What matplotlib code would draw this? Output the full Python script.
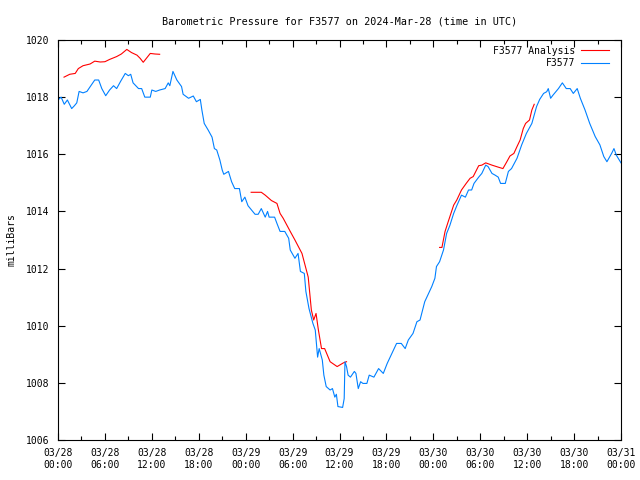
import numpy as np
import matplotlib
matplotlib.use("Agg")
import matplotlib.pyplot as plt

# hours since 2024-03-28 00:00 UTC
station_t = [0.0, 0.4, 0.8, 1.2, 1.75, 2.1, 2.4, 2.7, 3.2, 3.7, 4.2, 4.7, 5.2, 5.6, 6.1,
             6.6, 7.1, 7.5, 8.0, 8.6, 9.0, 9.3, 9.6, 10.3, 10.7, 11.1, 11.8, 12.0, 12.5,
             13.0, 13.7, 14.1, 14.3, 14.7, 15.2, 15.8, 16.0, 16.7, 17.3, 17.7, 18.2, 18.4,
             18.7, 19.2, 19.7, 20.0, 20.3, 20.7, 21.0, 21.2, 21.8, 22.2, 22.6, 23.2, 23.5,
             23.9, 24.3, 25.2, 25.6, 26.0, 26.5, 26.8, 27.0, 27.7, 28.0, 28.4, 29.0, 29.5,
             29.7, 30.3, 30.7, 31.0, 31.5, 31.7, 32.1, 32.6, 32.9, 33.2, 33.4, 33.8, 34.0,
             34.3, 34.8, 35.1, 35.4, 35.6, 35.8, 36.4, 36.6, 36.7, 36.9, 37.1, 37.4, 37.9,
             38.1, 38.4, 38.7, 39.0, 39.5, 39.8, 40.4, 41.0, 41.6, 42.1, 42.9, 43.3, 43.9,
             44.4, 44.8, 45.4, 45.9, 46.3, 46.9, 47.8, 48.2, 48.4, 48.8, 49.3, 49.7, 50.1,
             50.6, 51.0, 51.6, 52.1, 52.5, 52.9, 53.2, 53.8, 54.2, 54.7, 55.0, 55.5, 55.9,
             56.3, 56.6, 57.2, 57.6, 58.0, 58.7, 59.3, 59.9, 60.6, 61.2, 61.6, 62.1, 62.5,
             62.7, 63.0, 63.3, 64.0, 64.5, 65.0, 65.5, 65.9, 66.4, 66.8, 67.4, 68.0, 68.7,
             69.3, 69.8, 70.2, 70.8, 71.1, 71.4, 71.9, 72.0]
station_p = [1017.9, 1018.0, 1017.75, 1017.9, 1017.6, 1017.7, 1017.8, 1018.2, 1018.15, 1018.2,
             1018.4, 1018.6, 1018.6, 1018.3, 1018.05, 1018.25, 1018.4, 1018.3, 1018.55, 1018.83,
             1018.75, 1018.8, 1018.5, 1018.3, 1018.3, 1018.0, 1018.0, 1018.25, 1018.2, 1018.25,
             1018.3, 1018.5, 1018.4, 1018.9, 1018.6, 1018.37, 1018.1, 1017.96, 1018.04, 1017.84,
             1017.92, 1017.55, 1017.08, 1016.85, 1016.6, 1016.2, 1016.15, 1015.8, 1015.45, 1015.3,
             1015.4, 1015.04, 1014.8, 1014.8, 1014.34, 1014.5, 1014.2, 1013.9, 1013.9, 1014.1,
             1013.8, 1014.0, 1013.8, 1013.8, 1013.58, 1013.3, 1013.3, 1013.06, 1012.65, 1012.36,
             1012.53, 1011.9, 1011.83, 1011.2, 1010.6, 1010.08, 1009.85, 1008.9, 1009.2, 1008.8,
             1008.27, 1007.87, 1007.75, 1007.8, 1007.5, 1007.6, 1007.17, 1007.14, 1007.45, 1008.74,
             1008.57, 1008.27, 1008.2, 1008.4, 1008.33, 1007.8, 1008.04, 1007.98, 1007.98, 1008.27,
             1008.2, 1008.5, 1008.33, 1008.68, 1009.15, 1009.38, 1009.38, 1009.2, 1009.5, 1009.73,
             1010.14, 1010.2, 1010.84, 1011.37, 1011.66, 1012.07, 1012.24, 1012.65, 1013.23, 1013.5,
             1013.93, 1014.2, 1014.57, 1014.5, 1014.75, 1014.75, 1014.98, 1015.2, 1015.33, 1015.62,
             1015.57, 1015.33, 1015.27, 1015.2, 1014.98, 1014.98, 1015.4, 1015.5, 1015.86, 1016.33,
             1016.73, 1017.08, 1017.67, 1017.92, 1018.13, 1018.19, 1018.3, 1017.96, 1018.07, 1018.3,
             1018.5, 1018.3, 1018.3, 1018.13, 1018.3, 1017.96, 1017.55, 1017.08, 1016.62, 1016.33,
             1015.92, 1015.74, 1016.03, 1016.2, 1015.97, 1015.74, 1015.7]

# analysis has gaps (nan)
nan = np.nan
analysis_t = [0.77, 1.5, 2.2, 2.6, 3.2, 4.1, 4.7, 5.4, 6.0, 6.6, 7.5, 8.1, 8.8, 9.4, 10.1,
              10.5, 10.9, 11.8, 12.4, 13.0, 13.5,
              24.7, 26.0, 26.5, 27.3, 28.0, 28.4, 28.8, 29.7, 30.3, 31.2, 32.0, 32.4, 32.7,
              33.0, 33.3, 33.7, 34.1, 34.8, 35.7, 36.5, 36.9, 37.5,
              48.8, 49.1, 49.5, 49.9, 50.6, 51.0, 51.6, 52.2, 52.7, 53.1, 53.8, 54.2, 54.7,
              55.5, 56.3, 56.9, 57.4, 57.8, 58.3, 58.7, 59.1, 59.5, 59.8, 60.3, 60.6, 60.9]
analysis_p = [1018.7, 1018.8, 1018.83, 1019.0, 1019.1, 1019.16, 1019.26, 1019.23, 1019.24,
              1019.32, 1019.42, 1019.51, 1019.67, 1019.56, 1019.47, 1019.36, 1019.22, 1019.53,
              1019.51, 1019.5, nan,
              1014.67, 1014.67, 1014.57, 1014.38, 1014.28, 1013.93, 1013.76, 1013.3, 1013.0,
              1012.53, 1011.7, 1010.55, 1010.2, 1010.43, 1009.85, 1009.2, 1009.2, 1008.74,
              1008.57, 1008.7, 1008.74, nan,
              1012.74, 1012.74, 1013.3, 1013.64, 1014.22, 1014.4, 1014.75, 1014.98, 1015.16,
              1015.22, 1015.6, 1015.62, 1015.7, 1015.62, 1015.55, 1015.5, 1015.74, 1015.94,
              1016.03, 1016.27, 1016.5, 1016.9, 1017.08, 1017.2, 1017.55, 1017.75]

tick_hours = list(range(0, 73, 6))
tick_labels = ["03/28\n00:00", "03/28\n06:00", "03/28\n12:00", "03/28\n18:00",
               "03/29\n00:00", "03/29\n06:00", "03/29\n12:00", "03/29\n18:00",
               "03/30\n00:00", "03/30\n06:00", "03/30\n12:00", "03/30\n18:00",
               "03/31\n00:00"]

plt.rcParams['font.family'] = ['DejaVu Sans Mono']
plt.rcParams['font.size'] = 7

fig = plt.figure(figsize=(6.4, 4.8), dpi=100)
ax = fig.add_axes([58/640, 40/480, 563/640, 400/480])

ax.plot(analysis_t, analysis_p, color='#ff0000', lw=0.8, label='F3577 Analysis')
ax.plot(station_t, station_p, color='#0080ff', lw=0.8, label='F3577')

ax.set_xlim(0, 72)
ax.set_ylim(1006, 1020)
ax.set_xticks(tick_hours)
ax.set_xticklabels(tick_labels)
ax.set_xticks(range(3, 72, 6), minor=True)
ax.set_yticks(range(1006, 1021, 2))
ax.tick_params(direction='in', top=True, right=True, length=5, width=0.8, pad=6)
ax.tick_params(which='minor', direction='in', top=True, length=3, width=0.8)
for s in ax.spines.values():
    s.set_linewidth(0.8)

ax.set_ylabel('milliBars', labelpad=7)
ax.set_title('Barometric Pressure for F3577 on 2024-Mar-28 (time in UTC)',
             fontsize=7.3, pad=11.5)
ax.legend(loc='upper right', bbox_to_anchor=(0.991, 1.003), frameon=False,
          markerfirst=False, handlelength=2.9, borderaxespad=0.3,
          labelspacing=0.25, handletextpad=0.6)

plt.savefig('out.png')
